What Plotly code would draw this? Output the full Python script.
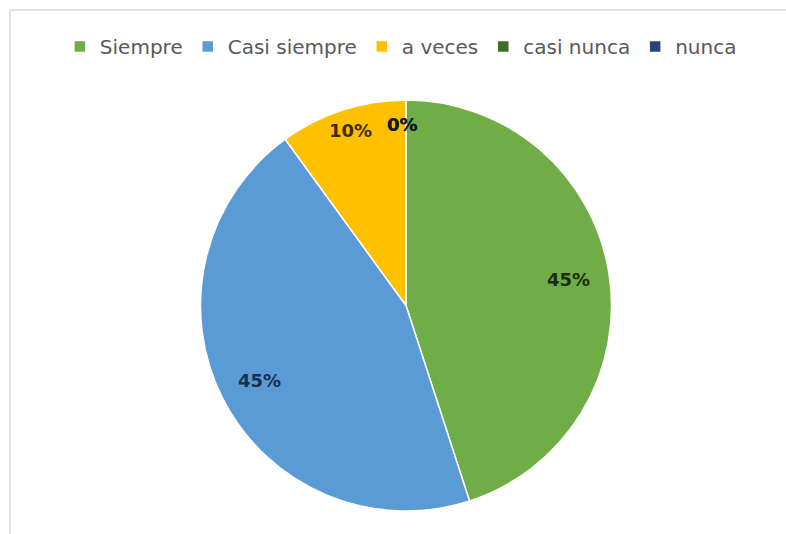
import math
import plotly.graph_objects as go

categories = ["Siempre", "Casi siempre", "a veces", "casi nunca", "nunca"]
values = [45, 45, 10, 0, 0]
colors = ["#70AD47", "#5B9BD5", "#FFC000", "#3F6F26", "#264478"]
label_colors = ["#1A2E0E", "#17304F", "#3F2B00", "#1A1A0A", "#101828"]

W, H = 786, 534
dom_x = [0.2545, 0.7786]
dom_y = [0.043, 0.8127]

fig = go.Figure()

fig.add_trace(go.Pie(
    labels=categories,
    values=values,
    sort=False,
    direction="clockwise",
    rotation=0,
    marker=dict(colors=colors, line=dict(color="#FFFFFF", width=1.5)),
    textinfo="none",
    domain=dict(x=dom_x, y=dom_y),
    hoverinfo="label+percent",
))

# percentage labels placed along each slice's mid-angle, near the rim
cx = (dom_x[0] + dom_x[1]) / 2 * W
cy = (1 - (dom_y[0] + dom_y[1]) / 2) * H
radius = min((dom_x[1] - dom_x[0]) * W, (dom_y[1] - dom_y[0]) * H) / 2
total = sum(values)
start = 0.0
for name, v, tc in zip(categories, values, label_colors):
    share = v / total
    mid = (start + share / 2) * 2 * math.pi
    start += share
    k = 0.80 if share >= 0.25 else 0.88
    px = cx + k * radius * math.sin(mid) - (4 if share == 0 else 0)
    py = cy - k * radius * math.cos(mid) - (3 if 0 < share < 0.25 else 0)
    fig.add_annotation(
        x=px / W, y=1 - py / H, xref="paper", yref="paper",
        text=f"{round(share * 100)}%", showarrow=False,
        font=dict(family="DejaVu Sans, sans-serif", size=18, color=tc, weight="bold"),
        xanchor="center", yanchor="middle",
    )

# light frame: only the top and left borders fall inside the view
fig.add_shape(type="line", xref="paper", yref="paper",
              x0=10 / W, x1=1, y0=1 - 10 / H, y1=1 - 10 / H,
              line=dict(color="#D9D9D9", width=1.5))
fig.add_shape(type="line", xref="paper", yref="paper",
              x0=10 / W, x1=10 / W, y0=0, y1=1 - 10 / H,
              line=dict(color="#D9D9D9", width=1.5))

fig.update_layout(
    width=W, height=H,
    margin=dict(l=0, r=0, t=0, b=0),
    paper_bgcolor="#FFFFFF",
    plot_bgcolor="#FFFFFF",
    showlegend=True,
    legend=dict(
        orientation="h",
        x=0.51, xanchor="center",
        y=1 - 27 / H, yanchor="top",
        font=dict(family="DejaVu Sans, sans-serif", size=20, color="#595959"),
        itemwidth=30,
        traceorder="normal",
    ),
)

fig.write_html("out.html")
